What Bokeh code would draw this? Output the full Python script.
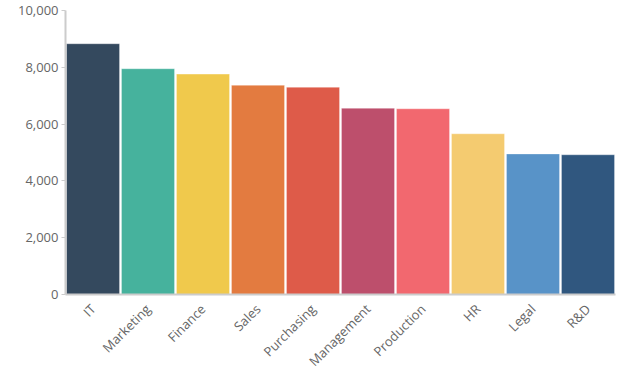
import math
from bokeh.plotting import figure
from bokeh.models import ColumnDataSource, NumeralTickFormatter, FixedTicker
from bokeh.embed import file_html
from bokeh.resources import INLINE

departments = ["IT", "Marketing", "Finance", "Sales", "Purchasing",
               "Management", "Production", "HR", "Legal", "R&D"]
values = [8830, 7950, 7760, 7370, 7300, 6560, 6540, 5660, 4950, 4920]
colors = ["#34495E", "#46B29D", "#F0C94C", "#E37B40", "#DE5B49",
          "#BD4F6C", "#F2686F", "#F4CB70", "#5893C8", "#30577F"]
y_ticks = [0, 2000, 4000, 6000, 8000, 10000]

src = ColumnDataSource(dict(dept=departments, val=values, color=colors))

p = figure(x_range=departments, y_range=(0, 10000), width=631, height=384,
           output_backend="svg", toolbar_location=None,
           min_border_left=65, min_border_right=16, min_border_top=10,
           min_border_bottom=90)
p.x_range.range_padding = 0
p.vbar(x="dept", top="val", width=0.965, source=src, fill_color="color",
       line_color="white", line_alpha=0.35, line_width=1)

p.outline_line_color = None
p.grid.grid_line_color = None

p.yaxis.ticker = FixedTicker(ticks=y_ticks)
p.yaxis.formatter = NumeralTickFormatter(format="0,0")
p.yaxis.axis_line_color = "#cccccc"
p.yaxis.axis_line_width = 2
p.yaxis.major_tick_line_color = "#cccccc"
p.yaxis.major_tick_out = 4
p.yaxis.major_tick_in = 0
p.yaxis.minor_tick_line_color = None
p.yaxis.major_label_standoff = 3

p.xaxis.axis_line_color = "#cccccc"
p.xaxis.axis_line_width = 2
p.xaxis.major_tick_line_color = None
p.xaxis.major_label_orientation = math.pi / 4
p.xaxis.major_label_standoff = 6

for ax in (p.xaxis, p.yaxis):
    ax.major_label_text_font = "Open Sans"
    ax.major_label_text_font_size = "13px"
    ax.major_label_text_color = "#666666"

open("out.html", "w").write(file_html(p, INLINE))
